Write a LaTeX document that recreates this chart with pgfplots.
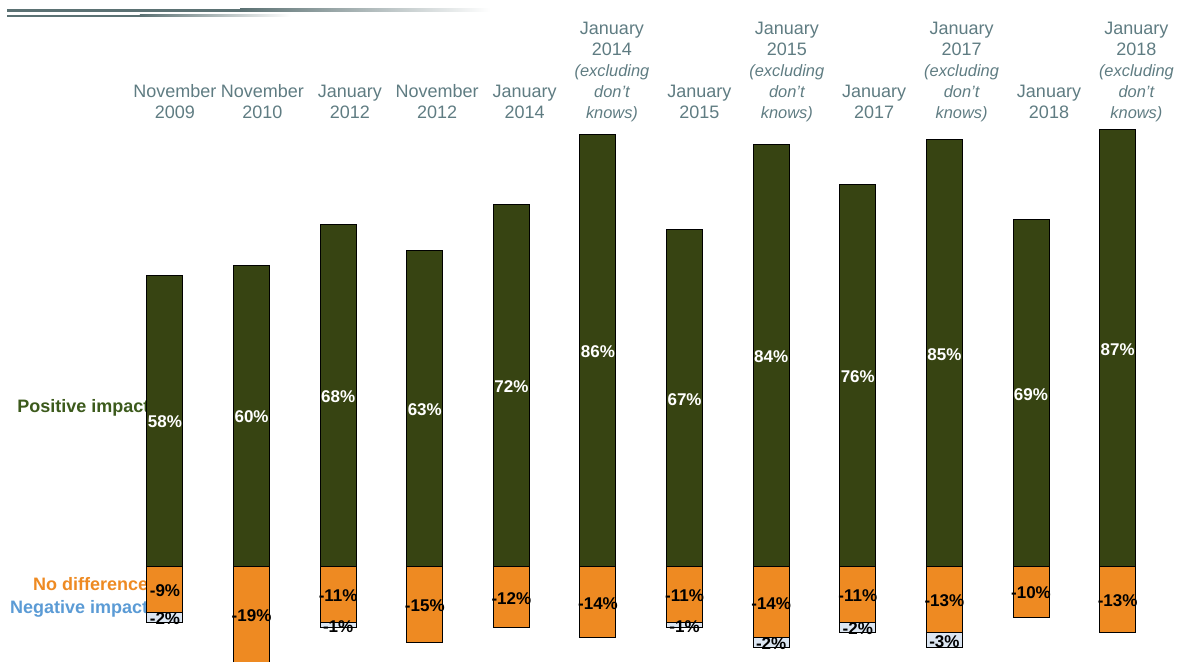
\documentclass[border=0pt]{standalone}
\usepackage{fontspec}
\setmainfont{Liberation Sans}
\usepackage{pgfplots}
\pgfplotsset{compat=1.18}
\usepackage{pgfplotstable}
\definecolor{posc}{HTML}{374412}
\definecolor{ndc}{HTML}{EE8A22}
\definecolor{negc}{HTML}{DCE6F2}
\definecolor{labc}{HTML}{5F7C82}
\definecolor{postxt}{HTML}{3C5A1C}
\definecolor{negtxt}{HTML}{5B9BD5}
\definecolor{slate}{HTML}{5B7173}
\newcommand\ex[1]{{\fontsize{8.2}{9.6}\selectfont\itshape #1}}

% x, positive, no difference (negative), negative impact (cumulative bottom)
\pgfplotstableread{
x pos nd tot
0 58 -9 -11
1 60 -19 -19
2 68 -11 -12
3 63 -15 -15
4 72 -12 -12
5 86 -14 -14
6 67 -11 -12
7 84 -14 -16
8 76 -11 -13
9 85 -13 -16
10 69 -10 -10
11 87 -13 -13
}\bars
\pgfplotstableread{
x y l
0 28.8 58
1 29.8 60
2 33.8 68
3 31.3 63
4 35.8 72
5 42.8 86
6 33.3 67
7 41.8 84
8 37.8 76
9 42.3 85
10 34.3 69
11 43.3 87
}\poslab
\pgfplotstableread{
x y l
0 -4.7 -9
1 -9.7 -19
2 -5.7 -11
3 -7.7 -15
4 -6.2 -12
5 -7.2 -14
6 -5.7 -11
7 -7.2 -14
8 -5.7 -11
9 -6.7 -13
10 -5.2 -10
11 -6.7 -13
}\ndlab
\pgfplotstableread{
x y l
0 -10.3 -2
2 -11.8 -1
6 -11.8 -1
7 -15.3 -2
8 -12.3 -2
9 -14.8 -3
}\neglab

\begin{document}
\begin{tikzpicture}
\begin{axis}[
  width=593pt, height=331pt, scale only axis,
  xmin=-1.905, xmax=11.79, ymin=-18.89, ymax=112.72,
  axis line style={draw=none}, tick style={draw=none},
  ytick=\empty,
  xtick={0,...,11},
  xticklabel pos=right,
  xticklabels={
    {November\\2009},
    {November\\2010},
    {January\\2012},
    {November\\2012},
    {January\\2014},
    {January\\2014\\\ex{(excluding}\\\ex{don’t}\\\ex{knows)}},
    {January\\2015},
    {January\\2015\\\ex{(excluding}\\\ex{don’t}\\\ex{knows)}},
    {January\\2017},
    {January\\2017\\\ex{(excluding}\\\ex{don’t}\\\ex{knows)}},
    {January\\2018},
    {January\\2018\\\ex{(excluding}\\\ex{don’t}\\\ex{knows)}}},
  xticklabel style={anchor=south, align=center, text=labc,
    font=\fontsize{9}{10.5}\selectfont, inner sep=0pt, text depth=0pt,
    yshift=-59.5pt, xshift={5pt+0.4pt*\ticknum}},
]
\fill[slate] (rel axis cs:0.0059,0.9864) rectangle (rel axis cs:0.2024,0.9819);
\shade[left color=slate, right color=white] (rel axis cs:0.2024,0.9864) rectangle (rel axis cs:0.4132,0.9819);
\fill[slate] (rel axis cs:0.0059,0.9778) rectangle (rel axis cs:0.118,0.9748);
\shade[left color=slate, right color=white] (rel axis cs:0.118,0.9778) rectangle (rel axis cs:0.245,0.9748);

\node[anchor=west, text=postxt, font=\fontsize{9}{10}\selectfont\bfseries, inner sep=0pt] at (axis cs:-1.709,31.6) {Positive impact};
\node[anchor=east, text=ndc, font=\fontsize{9}{10}\selectfont\bfseries, inner sep=0pt] at (axis cs:-0.19,-3.4) {No difference};
\node[anchor=east, text=negtxt, font=\fontsize{9}{10}\selectfont\bfseries, inner sep=0pt] at (axis cs:-0.19,-8.3) {Negative impact};

\addplot[ybar, bar width=18pt, bar shift=0pt, fill=negc, draw=black, line width=0.5pt] table[x=x, y=tot] {\bars};
\addplot[ybar, bar width=18pt, bar shift=0pt, fill=ndc, draw=black, line width=0.5pt] table[x=x, y=nd] {\bars};
\addplot[ybar, bar width=18pt, bar shift=0pt, fill=posc, draw=black, line width=0.5pt] table[x=x, y=pos] {\bars};

\addplot[draw=none, mark=none, point meta=explicit symbolic,
  nodes near coords={\pgfplotspointmeta\%}, nodes near coords align=center,
  every node near coord/.append style={text=white, inner sep=0pt,
    font=\fontsize{8.5}{10}\selectfont\bfseries}]
  table[x=x, y=y, meta=l] {\poslab};
\addplot[draw=none, mark=none, point meta=explicit symbolic,
  nodes near coords={\pgfplotspointmeta\%}, nodes near coords align=center,
  every node near coord/.append style={text=black, inner sep=0pt,
    font=\fontsize{8.5}{10}\selectfont\bfseries}]
  table[x=x, y=y, meta=l] {\ndlab};
\addplot[draw=none, mark=none, point meta=explicit symbolic,
  nodes near coords={\pgfplotspointmeta\%}, nodes near coords align=center,
  every node near coord/.append style={text=black, inner sep=0pt,
    font=\fontsize{8.5}{10}\selectfont\bfseries}]
  table[x=x, y=y, meta=l] {\neglab};
\end{axis}
\end{tikzpicture}
\end{document}
